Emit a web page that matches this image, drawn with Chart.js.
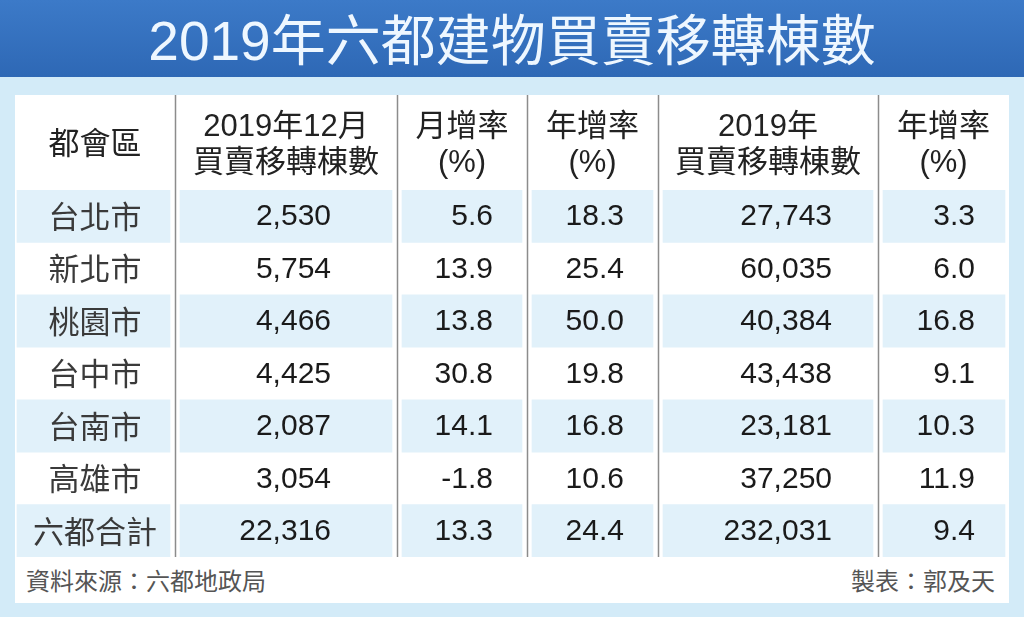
<!DOCTYPE html>
<html>
<head>
<meta charset="utf-8">
<script src="https://cdn.jsdelivr.net/npm/chart.js@4/dist/chart.umd.min.js"></script>
<style>
  body { margin: 0; width: 1024px; height: 617px; overflow: hidden; position: relative; background: #d3ebf8; font-family: "Noto Sans CJK TC", sans-serif; }
  #title { position: absolute; left: 0; top: 0; width: 1024px; height: 77px; background: linear-gradient(#3c7ac8, #2e68b5); color: #eef7ff; font-family: "Liberation Sans", "Noto Sans CJK TC", sans-serif; font-size: 55px; line-height: 82px; text-align: center; overflow: hidden; }
  #panel { position: absolute; left: 15px; top: 95px; width: 994px; height: 508px; background: #fff; }
  #chart-box { position: absolute; left: 0; top: 0; width: 994px; height: 462px; }
  .note { position: absolute; top: 470px; font-size: 24px; line-height: 30px; color: #555; }
</style>
</head>
<body>
<div id="title">2019年六都建物買賣移轉棟數</div>
<div id="panel">
  <div id="chart-box"><canvas id="chart"></canvas></div>
  <div class="note" style="left:11px">資料來源：六都地政局</div>
  <div class="note" style="right:14px">製表：郭及天</div>
</div>
<script>
const cities = ["台北市", "新北市", "桃園市", "台中市", "台南市", "高雄市", "六都合計"];
const decCount = [2530, 5754, 4466, 4425, 2087, 3054, 22316];
const decMonthRate = [5.6, 13.9, 13.8, 30.8, 14.1, -1.8, 13.3];
const decYearRate = [18.3, 25.4, 50.0, 19.8, 16.8, 10.6, 24.4];
const yearCount = [27743, 60035, 40384, 43438, 23181, 37250, 232031];
const yearRate = [3.3, 6.0, 16.8, 9.1, 10.3, 11.9, 9.4];
const headers = [
  ["都會區"],
  ["2019年12月", "買賣移轉棟數"],
  ["月增率", "(%)"],
  ["年增率", "(%)"],
  ["2019年", "買賣移轉棟數"],
  ["年增率", "(%)"]
];

// layout (x units = panel pixels)
const colEdges = [0, 160, 382, 512, 643, 863, 994];
const numRight = [null, 316, 478, 609, 817, 960];
const headerH = 95;
const shade = "#e1f1fa";

const fmtCount = v => v.toLocaleString("en-US");
const fmtRate = v => v.toFixed(1);
const columns = [null, decCount.map(fmtCount), decMonthRate.map(fmtRate), decYearRate.map(fmtRate), yearCount.map(fmtCount), yearRate.map(fmtRate)];

// one floating bar set per column for the striped rows
const datasets = headers.map((h, c) => ({
  data: cities.map((_, i) => i % 2 === 0 ? [colEdges[c] + (c === 0 ? 2 : 5), colEdges[c + 1] - (c === 5 ? 4 : 5)] : null),
  backgroundColor: shade,
  borderWidth: 0,
  grouped: false,
  barPercentage: 1,
  categoryPercentage: 1
}));

const tablePlugin = {
  id: "tableText",
  afterDatasetsDraw(chart) {
    const { ctx, chartArea } = chart;
    const x = chart.scales.x, y = chart.scales.y;
    const top = chartArea.top - headerH;
    ctx.save();

    // column rules
    ctx.strokeStyle = "#8c8c8c";
    ctx.lineWidth = 1.5;
    for (let c = 1; c < colEdges.length - 1; c++) {
      const px = Math.round(x.getPixelForValue(colEdges[c])) + 0.5;
      ctx.beginPath();
      ctx.moveTo(px, top);
      ctx.lineTo(px, chartArea.bottom);
      ctx.stroke();
    }

    // header
    ctx.fillStyle = "#222";
    ctx.textAlign = "center";
    ctx.textBaseline = "middle";
    ctx.font = '31px "Liberation Sans", "Noto Sans CJK TC", sans-serif';
    headers.forEach((lines, c) => {
      const cx = x.getPixelForValue((colEdges[c] + colEdges[c + 1]) / 2);
      if (lines.length === 1) {
        ctx.fillText(lines[0], cx, top + 50);
      } else {
        ctx.fillText(lines[0], cx, top + 32);
        ctx.fillText(lines[1], cx, top + 68);
      }
    });

    // body
    cities.forEach((name, i) => {
      const cy = y.getPixelForValue(i);
      ctx.textAlign = "center";
      ctx.fillStyle = "#3a3a3a";
      ctx.font = '31px "Noto Sans CJK TC", sans-serif';
      ctx.fillText(name, x.getPixelForValue((colEdges[0] + colEdges[1]) / 2), cy);
      ctx.textAlign = "right";
      ctx.fillStyle = "#1a1a1a";
      ctx.font = '30px "Liberation Sans", Arial, sans-serif';
      for (let c = 1; c < columns.length; c++) {
        ctx.fillText(columns[c][i], x.getPixelForValue(numRight[c]), cy + 1);
      }
    });
    ctx.restore();
  }
};

new Chart(document.getElementById("chart"), {
  type: "bar",
  data: { labels: cities, datasets },
  options: {
    indexAxis: "y",
    responsive: true,
    maintainAspectRatio: false,
    animation: false,
    layout: { padding: { top: headerH, bottom: 0, left: 0, right: 0 } },
    plugins: { legend: { display: false }, tooltip: { enabled: false } },
    scales: {
      x: { type: "linear", min: 0, max: 994, display: false },
      y: { type: "category", display: false }
    }
  },
  plugins: [tablePlugin]
});
</script>
</body>
</html>
